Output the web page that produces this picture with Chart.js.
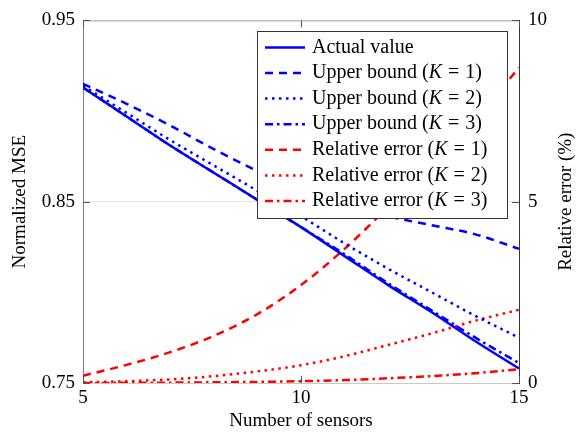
<!DOCTYPE html>
<html>
<head>
<meta charset="utf-8">
<script src="https://cdn.jsdelivr.net/npm/chart.js@4.4.1/dist/chart.umd.min.js"></script>
<style>
  html, body { margin: 0; padding: 0; background: #fff; }
  canvas { display: block; }
</style>
</head>
<body>
<canvas id="mseChart" width="585" height="432"></canvas>
<script>
// number of sensors on the x axis
const sensors = [5, 6, 7, 8, 9, 10, 11, 12, 13, 14, 15];

// normalized MSE (left axis)
const actualMse = [0.913, 0.897, 0.881, 0.866, 0.851, 0.836, 0.820, 0.804, 0.789, 0.773, 0.758];
const boundK1 = [0.915, 0.904, 0.892, 0.879, 0.867, 0.857, 0.849, 0.842, 0.837, 0.832, 0.824];
const boundK2 = [0.914, 0.899, 0.884, 0.870, 0.856, 0.842, 0.827, 0.813, 0.800, 0.787, 0.775];
const boundK3 = [0.913, 0.897, 0.881, 0.866, 0.851, 0.836, 0.821, 0.805, 0.790, 0.775, 0.761];

// relative error in % (right axis)
const errK1 = [0.2, 0.5, 0.85, 1.3, 1.9, 2.7, 3.7, 4.85, 6.0, 7.25, 8.7];
const errK2 = [0.02, 0.05, 0.1, 0.19, 0.32, 0.49, 0.74, 1.05, 1.37, 1.72, 2.02];
const errK3 = [0.0, 0.005, 0.01, 0.02, 0.03, 0.05, 0.08, 0.13, 0.19, 0.27, 0.38];

// tick labels
const xTicks = [5, 10, 15];
const mseTicks = [0.75, 0.85, 0.95];
const errTicks = [0, 5, 10];

const serif = "'Liberation Serif', 'DejaVu Serif', serif";
const tickFont = { family: serif, size: 19 };

const DASHED = [8, 6];
const DOTTED = [2.5, 4.5];
const DASHDOT = [8, 4, 2.5, 4];

function pts(ys) {
  return sensors.map((x, i) => ({ x: x, y: ys[i] }));
}

function series(label, ys, color, dash, axis) {
  return {
    label: label,
    data: pts(ys),
    borderColor: color,
    borderWidth: 2.5,
    borderDash: dash,
    yAxisID: axis,
    pointRadius: 0,
    fill: false
  };
}

function fixTicks(values) {
  return scale => { scale.ticks = values.map(v => ({ value: v })); };
}

// frame top, inward ticks, right-hand title and the boxed legend
const frameAndLegend = {
  id: 'frameAndLegend',
  afterDatasetsDraw(chart) {
    const { ctx, chartArea: a, scales } = chart;
    ctx.save();

    ctx.lineWidth = 1;
    ctx.strokeStyle = '#a6a6a6';
    ctx.beginPath();
    ctx.moveTo(a.left, a.top + 0.5);
    ctx.lineTo(a.right, a.top + 0.5);
    ctx.stroke();

    const tl = 7;
    ctx.strokeStyle = '#555';
    ctx.beginPath();
    xTicks.forEach(v => {
      const px = Math.round(scales.x.getPixelForValue(v)) + 0.5;
      ctx.moveTo(px, a.bottom); ctx.lineTo(px, a.bottom - tl);
      ctx.moveTo(px, a.top); ctx.lineTo(px, a.top + tl);
    });
    mseTicks.forEach(v => {
      const py = Math.round(scales.y.getPixelForValue(v)) + 0.5;
      ctx.moveTo(a.left, py); ctx.lineTo(a.left + tl, py);
    });
    errTicks.forEach(v => {
      const py = Math.round(scales.y1.getPixelForValue(v)) + 0.5;
      ctx.moveTo(a.right, py); ctx.lineTo(a.right - tl, py);
    });
    ctx.stroke();

    // right axis title, reading bottom to top like the left one
    ctx.fillStyle = '#000';
    ctx.font = '19px ' + serif;
    ctx.textAlign = 'center';
    ctx.textBaseline = 'middle';
    ctx.save();
    ctx.translate(566, (a.top + a.bottom) / 2);
    ctx.rotate(-Math.PI / 2);
    ctx.fillText('Relative error (%)', 0, 0);
    ctx.restore();

    // legend box
    const bw = 250, bh = 187;
    const bx = a.right - 12 - bw, by = a.top + 11;
    ctx.fillStyle = '#fff';
    ctx.fillRect(bx, by, bw, bh);
    ctx.strokeStyle = '#333';
    ctx.lineWidth = 1;
    ctx.strokeRect(Math.round(bx) + 0.5, Math.round(by) + 0.5, bw, bh);

    ctx.textAlign = 'left';
    ctx.textBaseline = 'middle';
    chart.data.datasets.forEach((ds, i) => {
      const cy = by + 16 + i * 25.6;
      ctx.save();
      ctx.strokeStyle = ds.borderColor;
      ctx.lineWidth = ds.borderWidth;
      ctx.setLineDash(ds.borderDash || []);
      ctx.beginPath();
      ctx.moveTo(bx + 8, cy);
      ctx.lineTo(bx + 48, cy);
      ctx.stroke();
      ctx.restore();

      // "K" set in italic with math spacing around "="
      let tx = bx + 55;
      ctx.fillStyle = '#000';
      const m = ds.label.match(/^(.*\()K = (.*)$/);
      const parts = m
        ? [[m[1], '', 0], ['K', 'italic ', 6], ['=', '', 6], [m[2], '', 0]]
        : [[ds.label, '', 0]];
      parts.forEach(([txt, style, gap]) => {
        ctx.font = style + '20px ' + serif;
        ctx.fillText(txt, tx, cy);
        tx += ctx.measureText(txt).width + gap;
      });
    });

    ctx.restore();
  }
};

new Chart('mseChart', {
  type: 'line',
  data: {
    datasets: [
      series('Actual value', actualMse, '#0000ff', [], 'y'),
      series('Upper bound (K = 1)', boundK1, '#0000ff', DASHED, 'y'),
      series('Upper bound (K = 2)', boundK2, '#0000ff', DOTTED, 'y'),
      series('Upper bound (K = 3)', boundK3, '#0000ff', DASHDOT, 'y'),
      series('Relative error (K = 1)', errK1, '#ff0000', DASHED, 'y1'),
      series('Relative error (K = 2)', errK2, '#ff0000', DOTTED, 'y1'),
      series('Relative error (K = 3)', errK3, '#ff0000', DASHDOT, 'y1')
    ]
  },
  options: {
    responsive: false,
    animation: false,
    layout: { padding: { top: 15, left: 0, right: 0, bottom: 0 } },
    elements: { line: { cubicInterpolationMode: 'monotone', borderCapStyle: 'butt' } },
    plugins: { legend: { display: false }, tooltip: { enabled: false } },
    scales: {
      x: {
        type: 'linear', min: 5, max: 15,
        afterBuildTicks: fixTicks(xTicks),
        afterFit: s => { s.height = 49; },
        grid: { display: false, drawTicks: false },
        border: { color: '#c8c8c8' },
        ticks: { padding: 4, font: tickFont, color: '#000' },
        title: { display: true, text: 'Number of sensors', font: tickFont, color: '#000', padding: { top: 0, bottom: 0 } }
      },
      y: {
        position: 'left', min: 0.75, max: 0.95,
        afterBuildTicks: fixTicks(mseTicks),
        afterFit: s => { s.width = 83; },
        grid: { drawTicks: false, color: '#e4e4e4' },
        border: { color: '#808080' },
        ticks: { padding: 8, font: tickFont, color: '#000', callback: v => v.toFixed(2) },
        title: { display: true, text: 'Normalized MSE', font: tickFont, color: '#000', padding: { top: 9, bottom: 0 } }
      },
      y1: {
        position: 'right', min: 0, max: 10,
        afterBuildTicks: fixTicks(errTicks),
        afterFit: s => { s.width = 66; },
        grid: { display: false, drawTicks: false },
        border: { color: '#333' },
        ticks: { padding: 9, font: tickFont, color: '#000' }
      }
    }
  },
  plugins: [frameAndLegend]
});
</script>
</body>
</html>
